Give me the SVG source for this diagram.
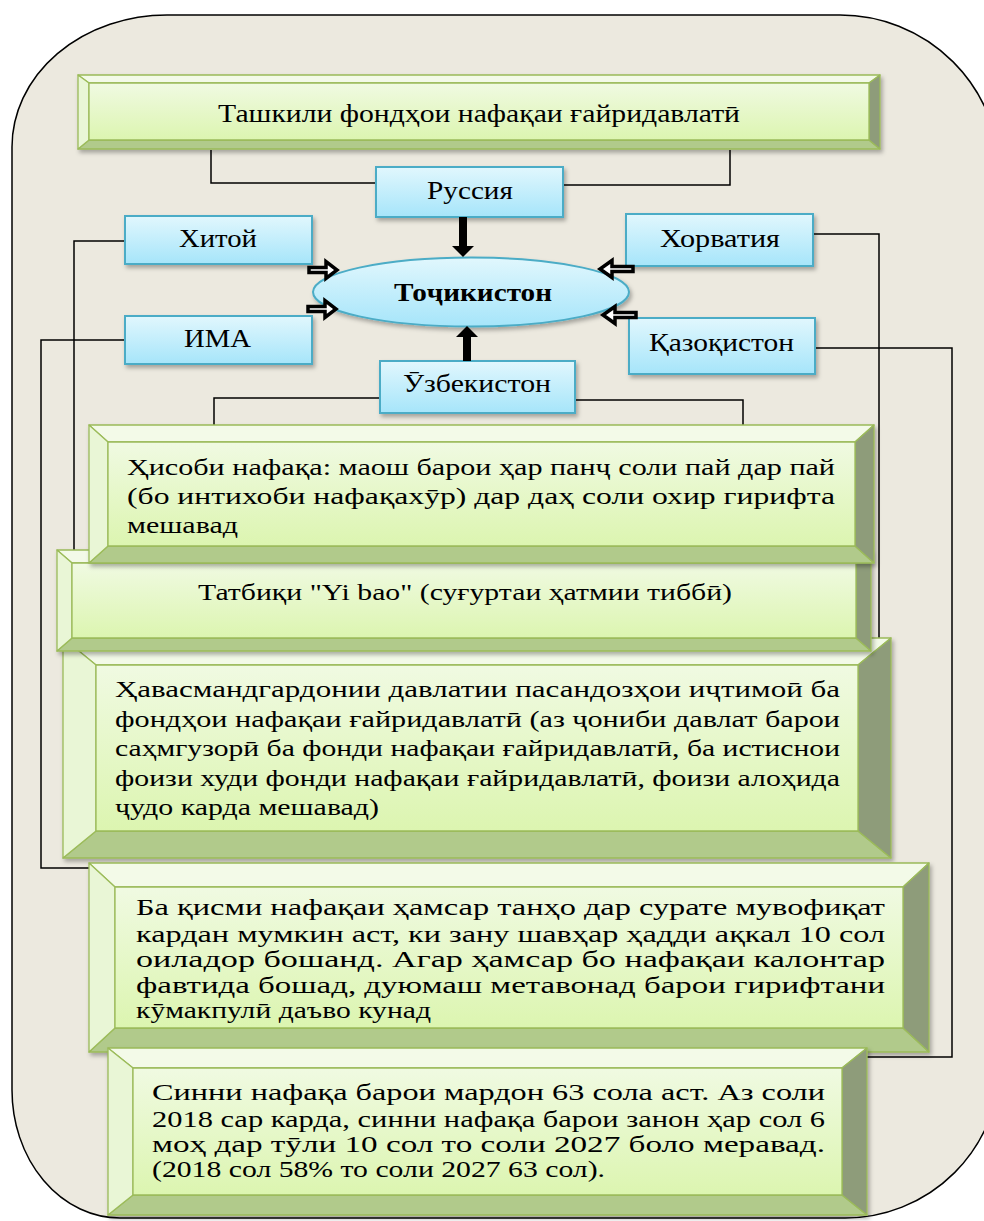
<svg xmlns="http://www.w3.org/2000/svg" width="984" height="1221" viewBox="0 0 984 1221">
<defs>
<style>
.frame{fill:#ECE9DF;stroke:#000;stroke-width:1.5}
.bv polygon,.bv rect{stroke:#9BBB59;stroke-width:1.3;stroke-linejoin:round}
.bt{fill:#F3FAE8}.bl{fill:#E9F6D6}.br{fill:#8E9C7A}.bb{fill:#B1CA8B}.bi{fill:url(#gGreen)}
.blue{fill:url(#gBlue);stroke:#4BACC6;stroke-width:2}
.conn{fill:none;stroke:#000;stroke-width:1.5}
.harr{fill:#fff;stroke:#000;stroke-width:3.5;stroke-linejoin:miter}
.t{font-family:"Liberation Serif","Times New Roman",serif;fill:#000}
.lbl{font-size:25px}
.par{font-size:23px}
</style>
<linearGradient id="gGreen" x1="0" y1="0" x2="0" y2="1">
<stop offset="0" stop-color="#F0FAE2"/>
<stop offset="1" stop-color="#DCF5B0"/>
</linearGradient>
<linearGradient id="gBlue" x1="0" y1="0" x2="0" y2="1">
<stop offset="0" stop-color="#E1F7FD"/>
<stop offset="1" stop-color="#A6E5FA"/>
</linearGradient>
<filter id="sh" x="-5%" y="-10%" width="112%" height="130%">
<feDropShadow dx="2" dy="3" stdDeviation="2" flood-color="#000" flood-opacity="0.3"/>
</filter>
</defs>

<path class="frame" d="M167,15 H840 A160,160 0 0 1 1000,175 V1063 A155,155 0 0 1 845,1218 H120 A108,128 0 0 1 12,1090 V147 A155,132 0 0 1 167,15 Z"/>

<g id="connectors">
<polyline class="conn" points="211,150 211,183 376,183"/>
<polyline class="conn" points="730,150 730,185 563,185"/>
<polyline class="conn" points="125,241 74,241 74,550"/>
<polyline class="conn" points="125,340 41,340 41,868 89,868"/>
<polyline class="conn" points="813,234 879,234 879,638"/>
<polyline class="conn" points="815,348 952,348 952,1057 867,1057"/>
<polyline class="conn" points="380,398 214,398 214,425"/>
<polyline class="conn" points="575,400 743,400 743,425"/>
</g>

<g id="node-tashkili">
<g class="bv" filter="url(#sh)">
<polygon class="bt" points="78,75 880,75 869,83 89,83"/>
<polygon class="bb" points="78,149 880,149 869,140 89,140"/>
<polygon class="bl" points="78,75 89,83 89,140 78,149"/>
<polygon class="br" points="880,75 869,83 869,140 880,149"/>
<rect class="bi" x="89" y="83" width="780" height="57"/>
</g>
<text class="t" x="218" y="122" font-size="26" textLength="522" lengthAdjust="spacingAndGlyphs">Ташкили фондҳои нафақаи ғайридавлатӣ</text>
</g>

<g id="node-russia">
<rect class="blue" x="376" y="167" width="187" height="50" filter="url(#sh)"/>
<text class="t lbl" x="427" y="199" textLength="86" lengthAdjust="spacingAndGlyphs">Руссия</text>
</g>
<g id="node-xitoy">
<rect class="blue" x="125" y="216" width="187" height="48" filter="url(#sh)"/>
<text class="t lbl" x="179" y="247" textLength="78" lengthAdjust="spacingAndGlyphs">Хитой</text>
</g>
<g id="node-xorvatiya">
<rect class="blue" x="626" y="214" width="187" height="52" filter="url(#sh)"/>
<text class="t lbl" x="660" y="247" textLength="120" lengthAdjust="spacingAndGlyphs">Хорватия</text>
</g>
<g id="node-ima">
<rect class="blue" x="125" y="316" width="187" height="48" filter="url(#sh)"/>
<text class="t lbl" x="184" y="347" textLength="67" lengthAdjust="spacingAndGlyphs">ИМА</text>
</g>
<g id="node-qazoqiston">
<rect class="blue" x="629" y="318" width="186" height="56" filter="url(#sh)"/>
<text class="t lbl" x="649" y="351" textLength="145" lengthAdjust="spacingAndGlyphs">Қазоқистон</text>
</g>
<g id="node-uzbekiston">
<rect class="blue" x="380" y="361" width="195" height="52" filter="url(#sh)"/>
<text class="t lbl" x="403" y="392" textLength="148" lengthAdjust="spacingAndGlyphs">Ӯзбекистон</text>
</g>
<g id="node-tojikiston">
<ellipse class="blue" cx="471" cy="292" rx="158" ry="34.5" filter="url(#sh)"/>
<text class="t" x="394" y="301" font-size="26" font-weight="bold" textLength="158" lengthAdjust="spacingAndGlyphs">Тоҷикистон</text>
</g>

<g id="arrows">
<rect x="459" y="217" width="8" height="30" fill="#000"/>
<polygon points="452,246 474,246 463,257" fill="#000"/>
<polygon points="456,337 478,337 467,326" fill="#000"/>
<rect x="463" y="336" width="8" height="25" fill="#000"/>
<path class="harr" d="M309,267.5 H326 V261.5 L337,270 L326,278.5 V272.5 H309 Z"/>
<path class="harr" d="M308,306.5 H325 V300.5 L336,309 L325,317.5 V311.5 H308 Z"/>
<path class="harr" d="M633,266.5 H612 V260.5 L600,269 L612,277.5 V271.5 H633 Z"/>
<path class="harr" d="M636,312.5 H615 V306.5 L603,315 L615,323.5 V317.5 H636 Z"/>
</g>

<g id="node-havasmand">
<g class="bv" filter="url(#sh)">
<polygon class="bt" points="63,638 891,638 858,665 96,665"/>
<polygon class="bb" points="63,858 891,858 858,831 96,831"/>
<polygon class="bl" points="63,638 96,665 96,831 63,858"/>
<polygon class="br" points="891,638 858,665 858,831 891,858"/>
<rect class="bi" x="96" y="665" width="762" height="166"/>
</g>
<text class="t par" x="115" y="697" textLength="725" lengthAdjust="spacingAndGlyphs">Ҳавасмандгардонии давлатии пасандозҳои иҷтимоӣ ба</text>
<text class="t par" x="115" y="726.5" textLength="725" lengthAdjust="spacingAndGlyphs">фондҳои нафақаи ғайридавлатӣ (аз ҷониби давлат барои</text>
<text class="t par" x="115" y="756" textLength="725" lengthAdjust="spacingAndGlyphs">саҳмгузорӣ ба фонди нафақаи ғайридавлатӣ, ба истиснои</text>
<text class="t par" x="115" y="785.5" textLength="725" lengthAdjust="spacingAndGlyphs">фоизи худи фонди нафақаи ғайридавлатӣ, фоизи алоҳида</text>
<text class="t par" x="115" y="815" textLength="264" lengthAdjust="spacingAndGlyphs">ҷудо карда мешавад)</text>
</g>

<g id="node-tatbiq">
<g class="bv" filter="url(#sh)">
<polygon class="bt" points="57,550 871,550 856,563 72,563"/>
<polygon class="bb" points="57,651 871,651 856,638 72,638"/>
<polygon class="bl" points="57,550 72,563 72,638 57,651"/>
<polygon class="br" points="871,550 856,563 856,638 871,651"/>
<rect class="bi" x="72" y="563" width="784" height="75"/>
</g>
<text class="t par" x="198" y="600" textLength="534" lengthAdjust="spacingAndGlyphs">Татбиқи "Yi bao" (суғуртаи ҳатмии тиббӣ)</text>
</g>

<g id="node-hisob">
<g class="bv" filter="url(#sh)">
<polygon class="bt" points="89,425 874,425 855,442 108,442"/>
<polygon class="bb" points="89,563 874,563 855,546 108,546"/>
<polygon class="bl" points="89,425 108,442 108,546 89,563"/>
<polygon class="br" points="874,425 855,442 855,546 874,563"/>
<rect class="bi" x="108" y="442" width="747" height="104"/>
</g>
<text class="t par" x="127" y="475" textLength="708" lengthAdjust="spacingAndGlyphs">Ҳисоби нафақа: маош барои ҳар панҷ соли пай дар пай</text>
<text class="t par" x="127" y="504" textLength="708" lengthAdjust="spacingAndGlyphs">(бо интихоби нафақахӯр) дар даҳ соли охир гирифта</text>
<text class="t par" x="127" y="533" textLength="111" lengthAdjust="spacingAndGlyphs">мешавад</text>
</g>

<g id="node-baqismi">
<g class="bv" filter="url(#sh)">
<polygon class="bt" points="89,863 929,863 903,887 115,887"/>
<polygon class="bb" points="89,1052 929,1052 903,1028 115,1028"/>
<polygon class="bl" points="89,863 115,887 115,1028 89,1052"/>
<polygon class="br" points="929,863 903,887 903,1028 929,1052"/>
<rect class="bi" x="115" y="887" width="788" height="141"/>
</g>
<text class="t par" x="136" y="915" textLength="749" lengthAdjust="spacingAndGlyphs">Ба қисми нафақаи ҳамсар танҳо дар сурате мувофиқат</text>
<text class="t par" x="136" y="942" textLength="749" lengthAdjust="spacingAndGlyphs">кардан мумкин аст, ки зану шавҳар ҳадди ақкал 10 сол</text>
<text class="t par" x="136" y="967" textLength="749" lengthAdjust="spacingAndGlyphs">оиладор бошанд. Агар ҳамсар бо нафақаи калонтар</text>
<text class="t par" x="136" y="993" textLength="749" lengthAdjust="spacingAndGlyphs">фавтида бошад, дуюмаш метавонад барои гирифтани</text>
<text class="t par" x="136" y="1018" textLength="295" lengthAdjust="spacingAndGlyphs">кӯмакпулӣ даъво кунад</text>
</g>

<g id="node-sinni">
<g class="bv" filter="url(#sh)">
<polygon class="bt" points="108,1048 867,1048 842,1068 133,1068"/>
<polygon class="bb" points="108,1215 867,1215 842,1195 133,1195"/>
<polygon class="bl" points="108,1048 133,1068 133,1195 108,1215"/>
<polygon class="br" points="867,1048 842,1068 842,1195 867,1215"/>
<rect class="bi" x="133" y="1068" width="709" height="127"/>
</g>
<text class="t par" x="152" y="1100" textLength="673" lengthAdjust="spacingAndGlyphs">Синни нафақа барои мардон 63 сола аст. Аз соли</text>
<text class="t par" x="152" y="1127" textLength="673" lengthAdjust="spacingAndGlyphs">2018 сар карда, синни нафақа барои занон ҳар сол 6</text>
<text class="t par" x="152" y="1152" textLength="673" lengthAdjust="spacingAndGlyphs">моҳ дар тӯли 10 сол то соли 2027 боло меравад.</text>
<text class="t par" x="152" y="1177" textLength="453" lengthAdjust="spacingAndGlyphs">(2018 сол 58% то соли 2027 63 сол).</text>
</g>
</svg>
